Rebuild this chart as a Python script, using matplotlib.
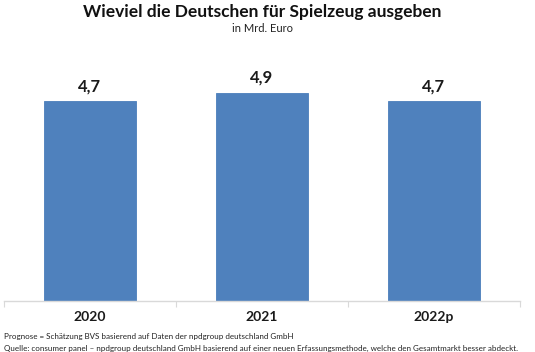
import matplotlib
matplotlib.use("Agg")
import matplotlib.pyplot as plt

categories = ["2020", "2021", "2022p"]
values = [4.7, 4.9, 4.7]
value_labels = ["4,7", "4,9", "4,7"]
title = "Wieviel die Deutschen für Spielzeug ausgeben"
subtitle = "in Mrd. Euro"
notes = ["Prognose = Schätzung BVS basierend auf Daten der npdgroup deutschland GmbH",
         "Quelle: consumer panel \u2013 npdgroup deutschland GmbH basierend auf einer neuen Erfassungsmethode, welche den Gesamtmarkt besser abdeckt."]

plt.rcParams['font.family'] = ['Lato', 'DejaVu Sans']

W, H = 535, 352
fig = plt.figure(figsize=(W/100, H/100), dpi=100)
ax = fig.add_axes([4/W, (H-301)/H, 516/W, 255/H])

x = list(range(len(categories)))
ax.bar(x, values, width=0.54, color="#4F81BD", edgecolor="#4A7EBB", linewidth=0.6)
ax.set_xlim(-0.5, 2.5)
ax.set_ylim(0, 6)
for xi, v, lab in zip(x, values, value_labels):
    ax.text(xi, v + 0.17, lab, ha="center", va="bottom", fontsize=12, fontweight="bold", color="#1a1a1a")

ax.set_xticks([-0.5, 0.5, 1.5, 2.5], minor=False)
ax.set_xticklabels([])
ax.tick_params(axis="x", which="major", length=4, color="#D9D9D9", direction="out")
ax.set_xticks(x, minor=True)
ax.set_xticklabels(categories, minor=True, fontsize=10, fontweight="bold", color="#1a1a1a")
ax.tick_params(axis="x", which="minor", length=0, pad=7)
ax.set_yticks([])
for s in ["top", "right", "left"]:
    ax.spines[s].set_visible(False)
ax.spines["bottom"].set_color("#D9D9D9")
ax.spines["bottom"].set_linewidth(1)

fig.text(262/W, 1 - 12/H, title, ha="center", va="center", fontsize=12.5, fontweight="bold", color="#111111")
fig.text(262/W, 1 - 29/H, subtitle, ha="center", va="center", fontsize=8, color="#222222")
fig.text(4/W, 1 - 336/H, notes[0], ha="left", va="center", fontsize=5.75, color="#222222")
fig.text(4/W, 1 - 348/H, notes[1], ha="left", va="center", fontsize=5.75, color="#222222")

fig.savefig("out.png", dpi=100)
